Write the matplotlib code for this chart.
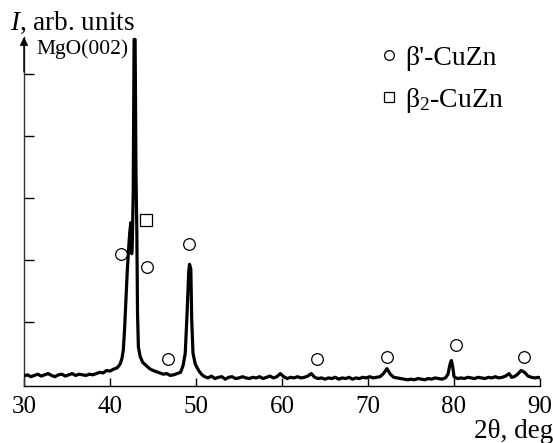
import numpy as np
import matplotlib
matplotlib.use("Agg")
import matplotlib.pyplot as plt
from matplotlib.lines import Line2D

plt.rcParams["font.family"] = ["Liberation Serif", "DejaVu Serif"]
plt.rcParams["mathtext.fontset"] = "custom"
plt.rcParams["mathtext.rm"] = "Liberation Serif"
plt.rcParams["mathtext.it"] = "Liberation Serif:italic"

# ── scan (2theta in deg, intensity in tick units) ───────────────────────────
theta_low = [30.0, 30.4, 30.8, 31.2, 31.6, 32.0, 32.4, 32.8, 33.2, 33.6,
             34.0, 34.4, 34.8, 35.2, 35.6, 36.0, 36.4, 36.8, 37.2, 37.6,
             38.0, 38.4, 38.8, 39.2, 39.6, 40.0, 40.4, 40.8, 41.0, 41.2]
int_low = [0.13, 0.15, 0.12, 0.14, 0.16, 0.13, 0.15, 0.17, 0.14, 0.12,
           0.15, 0.16, 0.13, 0.15, 0.17, 0.14, 0.16, 0.15, 0.14, 0.16,
           0.15, 0.17, 0.19, 0.18, 0.22, 0.21, 0.24, 0.26, 0.29, 0.33]

theta_peaks = [41.4, 41.55, 41.7, 41.85, 42.0, 42.15, 42.3, 42.42, 42.52, 42.6,
               42.7, 42.8, 42.92, 43.02, 43.12, 43.2, 43.3, 43.5, 43.8, 44.2,
               44.6, 45.0, 45.4, 45.8, 46.2, 46.6, 47.0, 47.4, 47.8, 48.2,
               48.5, 48.75, 48.95, 49.15, 49.25, 49.4, 49.5, 49.65, 49.9, 50.1,
               50.4, 50.7, 51.0]
int_peaks = [0.42, 0.55, 0.9, 1.35, 1.8, 2.15, 2.45, 2.6, 2.1, 2.3,
             3.1, 5.55, 5.55, 3.4, 2.45, 1.15, 0.6, 0.45, 0.35, 0.3,
             0.25, 0.22, 0.2, 0.18, 0.16, 0.17, 0.14, 0.15, 0.17, 0.19,
             0.3, 0.5, 1.1, 1.8, 1.93, 1.85, 1.05, 0.5, 0.33, 0.27,
             0.2, 0.15, 0.12]

theta_high = [51.4, 51.8, 52.2, 52.6, 53.0, 53.4, 53.8, 54.2, 54.6, 55.0,
              55.4, 55.8, 56.2, 56.6, 57.0, 57.4, 57.8, 58.2, 58.6, 59.0,
              59.4, 59.8, 60.2, 60.6, 61.0, 61.4, 61.8, 62.2, 62.6, 63.0,
              63.4, 63.8, 64.2, 64.6, 65.0, 65.4, 65.8, 66.2, 66.6, 67.0,
              67.4, 67.8, 68.2, 68.6, 69.0, 69.4, 69.8, 70.2, 70.6, 71.0,
              71.4, 71.8, 72.2, 72.6, 73.0, 73.4, 73.8, 74.2, 74.6, 75.0,
              75.4, 75.8, 76.2, 76.6, 77.0, 77.4, 77.8, 78.2, 78.6, 79.0,
              79.3, 79.55, 79.7, 79.85, 80.0, 80.4, 80.8, 81.2, 81.6, 82.0,
              82.4, 82.8, 83.2, 83.6, 84.0, 84.4, 84.8, 85.2, 85.6, 86.0,
              86.4, 86.7, 87.0, 87.4, 87.8, 88.2, 88.6, 89.0, 89.4, 89.8, 90.0]
int_high = [0.10, 0.13, 0.09, 0.11, 0.12, 0.08, 0.11, 0.12, 0.09, 0.10,
            0.12, 0.10, 0.09, 0.11, 0.10, 0.12, 0.09, 0.11, 0.13, 0.10,
            0.12, 0.17, 0.12, 0.09, 0.11, 0.10, 0.12, 0.10, 0.11, 0.13,
            0.17, 0.11, 0.09, 0.10, 0.08, 0.10, 0.09, 0.11, 0.08, 0.10,
            0.09, 0.11, 0.08, 0.10, 0.09, 0.11, 0.10, 0.12, 0.10, 0.11,
            0.12, 0.17, 0.25, 0.16, 0.11, 0.10, 0.09, 0.08, 0.07, 0.08,
            0.07, 0.09, 0.08, 0.07, 0.09, 0.08, 0.10, 0.09, 0.08, 0.10,
            0.16, 0.33, 0.38, 0.28, 0.12, 0.09, 0.10, 0.09, 0.11, 0.10,
            0.09, 0.11, 0.10, 0.09, 0.11, 0.10, 0.12, 0.10, 0.11, 0.13,
            0.17, 0.11, 0.12, 0.16, 0.22, 0.19, 0.13, 0.11, 0.10, 0.11, 0.10]

# phase labels
beta_prime_x = [41.25, 44.25, 46.7, 49.2, 64.1, 72.25, 80.2, 88.1]
beta_prime_y = [2.09, 1.89, 0.41, 2.26, 0.41, 0.44, 0.63, 0.43]
beta2_x = [44.2]
beta2_y = [2.64]

theta = theta_low + theta_peaks + theta_high
intensity = int_low + int_peaks + int_high

fig = plt.figure(figsize=(5.53, 4.43), dpi=100)
ax = fig.add_axes([24 / 553, 1 - 386 / 443, 516 / 553, 349 / 443])

ax.plot(theta, intensity, color="black", lw=2.3, solid_joinstyle="round", zorder=3)
ax.plot(beta_prime_x, beta_prime_y, ls="none", marker="o", ms=8.4,
        mfc="white", mec="black", mew=0.9, zorder=4)
ax.plot(beta2_x, beta2_y, ls="none", marker="s", ms=8.4,
        mfc="white", mec="black", mew=0.9, zorder=4)

ax.set_xlim(30, 90)
ax.set_ylim(-0.03, 5.59)
ax.set_xticks([30, 40, 50, 60, 70, 80, 90])
ax.set_yticks([1, 2, 3, 4, 5])
ax.set_yticklabels([])
ax.tick_params(axis="x", direction="in", length=6, width=1, labelsize=18, pad=7)
ax.tick_params(axis="y", direction="in", length=7, width=1)
for s in ["top", "right"]:
    ax.spines[s].set_visible(False)
ax.spines["left"].set_linewidth(1)
ax.spines["bottom"].set_linewidth(1)
ax.spines["left"].set_color("#333333")
ax.annotate("", xy=(0, 1.0), xytext=(0, 0.9), xycoords="axes fraction",
            arrowprops=dict(arrowstyle="-|>", color="black", lw=1,
                            mutation_scale=12, shrinkA=0, shrinkB=0))

ax.text(31.5, 5.31, "MgO(002)", fontsize=15.5, ha="left", va="baseline")

handles = [
    Line2D([], [], ls="none", marker="o", ms=7, mfc="white", mec="black", mew=0.9),
    Line2D([], [], ls="none", marker="s", ms=7, mfc="white", mec="black", mew=0.9),
]
fig.legend(handles, ["β'-CuZn", r"β$_{\mathregular{2}}$-CuZn"], loc="upper left",
           bbox_to_anchor=(361 / 553, 1 - 26 / 443), frameon=False, fontsize=20,
           handlelength=0.6, handletextpad=0.3, labelspacing=0.55, borderpad=0.2)

fig.text(10 / 553, 1 - 30 / 443, r"$I$, arb. units", fontsize=19.5, ha="left", va="baseline")
fig.text(1.0, 1 - 438 / 443, "2θ, deg", fontsize=19.5, ha="right", va="baseline")

fig.savefig("out.png", dpi=100)
